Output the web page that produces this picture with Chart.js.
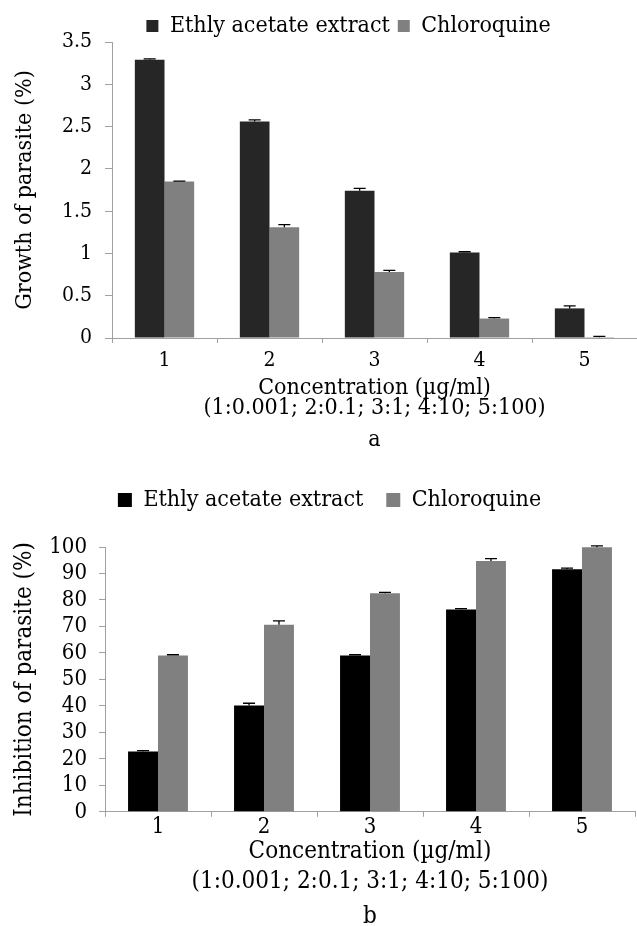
<!DOCTYPE html>
<html>
<head>
<meta charset="utf-8">
<script src="https://cdn.jsdelivr.net/npm/chart.js@4"></script>
<style>
  html, body { margin: 0; padding: 0; background: #fff; }
  canvas { display: block; }
</style>
</head>
<body>
<canvas id="chartA" width="637" height="455"></canvas>
<canvas id="chartB" width="637" height="471"></canvas>
<script>
const categories = ['1', '2', '3', '4', '5'];
const seriesNames = ['Ethly acetate extract', 'Chloroquine'];

// panel a - growth of parasite (%)
const growthExtract = [3.29, 2.56, 1.74, 1.01, 0.35];
const growthExtractErr = [0.01, 0.02, 0.03, 0.01, 0.03];
const growthChloro = [1.85, 1.31, 0.78, 0.23, 0.01];
const growthChloroErr = [0.005, 0.03, 0.02, 0.01, 0.01];

// panel b - inhibition of parasite (%)
const inhibExtract = [22.8, 40.1, 59.0, 76.4, 91.6];
const inhibExtractErr = [0.3, 0.9, 0.3, 0.3, 0.4];
const inhibChloro = [59.0, 70.6, 82.5, 94.7, 99.9];
const inhibChloroErr = [0.3, 1.5, 0.4, 0.9, 0.5];

const xTitle = ['Concentration (µg/ml)', '(1:0.001; 2:0.1; 3:1; 4:10; 5:100)'];

const FONT = "'DejaVu Serif Condensed', 'DejaVu Serif', serif";
const AXIS = '#a0a0a0';

// only the upper half of each error bar shows in the original
const errorBars = {
  id: 'errorBars',
  afterDatasetsDraw(chart) {
    const ctx = chart.ctx;
    const yScale = chart.scales.y;
    chart.data.datasets.forEach((ds, di) => {
      if (!ds.errors) return;
      chart.getDatasetMeta(di).data.forEach((bar, i) => {
        const top = yScale.getPixelForValue(ds.data[i] + ds.errors[i]);
        ctx.save();
        ctx.strokeStyle = '#000';
        ctx.lineWidth = 1.3;
        ctx.beginPath();
        ctx.moveTo(bar.x, bar.y);
        ctx.lineTo(bar.x, top);
        ctx.moveTo(bar.x - 6, top);
        ctx.lineTo(bar.x + 6, top);
        ctx.stroke();
        ctx.restore();
      });
    });
  }
};

// moves the legend a bit without touching the plot area
const legendNudge = {
  id: 'legendNudge',
  afterLayout(chart, args, opts) {
    const lg = chart.legend;
    if (!lg) return;
    const dx = opts.dx || 0, dy = opts.dy || 0;
    lg.left += dx; lg.right += dx;
    lg.top += dy; lg.bottom += dy;
  }
};

function makeChart(id, c) {
  return new Chart(document.getElementById(id), {
    type: 'bar',
    data: {
      labels: categories,
      datasets: [
        { label: seriesNames[0], data: c.extract, errors: c.extractErr, backgroundColor: c.darkColor },
        { label: seriesNames[1], data: c.chloro, errors: c.chloroErr, backgroundColor: '#808080' }
      ]
    },
    plugins: [errorBars, legendNudge],
    options: {
      responsive: false,
      animation: false,
      layout: { padding: { top: c.padTop, right: c.padRight, left: 0, bottom: 0 } },
      datasets: { bar: { categoryPercentage: 0.565, barPercentage: 1 } },
      plugins: {
        legend: {
          position: 'top',
          labels: {
            font: { family: FONT, size: 23 },
            color: '#000',
            boxWidth: c.box,
            boxHeight: c.box,
            padding: c.legendPad
          }
        },
        legendNudge: { dx: c.legendDx, dy: c.legendDy },
        title: {
          display: true,
          text: c.caption,
          position: 'bottom',
          fullSize: false,
          color: '#000',
          font: { family: FONT, size: c.capSize, weight: 'normal', lineHeight: 0.8 },
          padding: { top: c.capTop, bottom: c.capBottom }
        },
        tooltip: { enabled: false }
      },
      scales: {
        x: {
          grid: { drawOnChartArea: false, color: AXIS, tickLength: 5 },
          border: { color: AXIS },
          ticks: { font: { family: FONT, size: c.xTickSize, lineHeight: 1 }, color: '#000', padding: c.xTickPad },
          title: {
            display: true,
            text: xTitle,
            color: '#000',
            font: { family: FONT, size: c.xTitleSize, lineHeight: c.xTitleLH },
            padding: 0
          },
          afterFit: s => { s.height = c.xHeight; }
        },
        y: {
          min: 0,
          max: c.yMax,
          grid: { drawOnChartArea: false, color: AXIS, tickLength: c.yTickLen },
          border: { color: AXIS },
          ticks: {
            stepSize: c.yStep,
            autoSkip: false,
            callback: v => String(v),
            font: { family: FONT, size: c.yTickSize, lineHeight: 1 },
            color: '#000',
            padding: c.yTickPad
          },
          title: {
            display: true,
            text: c.yTitle,
            color: '#000',
            font: { family: FONT, size: c.yTitleSize },
            padding: { top: c.yTitlePad, bottom: 0 }
          },
          afterFit: s => { s.width = c.yWidth; }
        }
      }
    }
  });
}

makeChart('chartA', {
  extract: growthExtract, extractErr: growthExtractErr,
  chloro: growthChloro, chloroErr: growthChloroErr,
  darkColor: '#262626',
  padTop: 1, padRight: 0,
  box: 12, legendPad: 8, legendDx: 30, legendDy: 5.5,
  caption: 'a', capSize: 23, capTop: 12.8, capBottom: 5.8,
  xTickSize: 21, xTickPad: 7.5, xTitleSize: 23, xTitleLH: 0.87, xHeight: 80,
  yMax: 3.5, yStep: 0.5, yTickLen: 7, yTickSize: 21, yTickPad: 13,
  yTitle: 'Growth of parasite (%)', yTitleSize: 23, yTitlePad: 11, yWidth: 112
});

makeChart('chartB', {
  extract: inhibExtract, extractErr: inhibExtractErr,
  chloro: inhibChloro, chloroErr: inhibChloroErr,
  darkColor: '#000000',
  padTop: 36, padRight: 2,
  box: 14, legendPad: 23, legendDx: 12, legendDy: -25.5,
  caption: 'b', capSize: 24, capTop: 10, capBottom: 0,
  xTickSize: 22, xTickPad: -1, xTitleSize: 24, xTitleLH: 1.25, xHeight: 85,
  yMax: 100, yStep: 10, yTickLen: 6, yTickSize: 22, yTickPad: 12,
  yTitle: 'Inhibition of parasite (%)', yTitleSize: 24, yTitlePad: 10.6, yWidth: 105
});
</script>
</body>
</html>
